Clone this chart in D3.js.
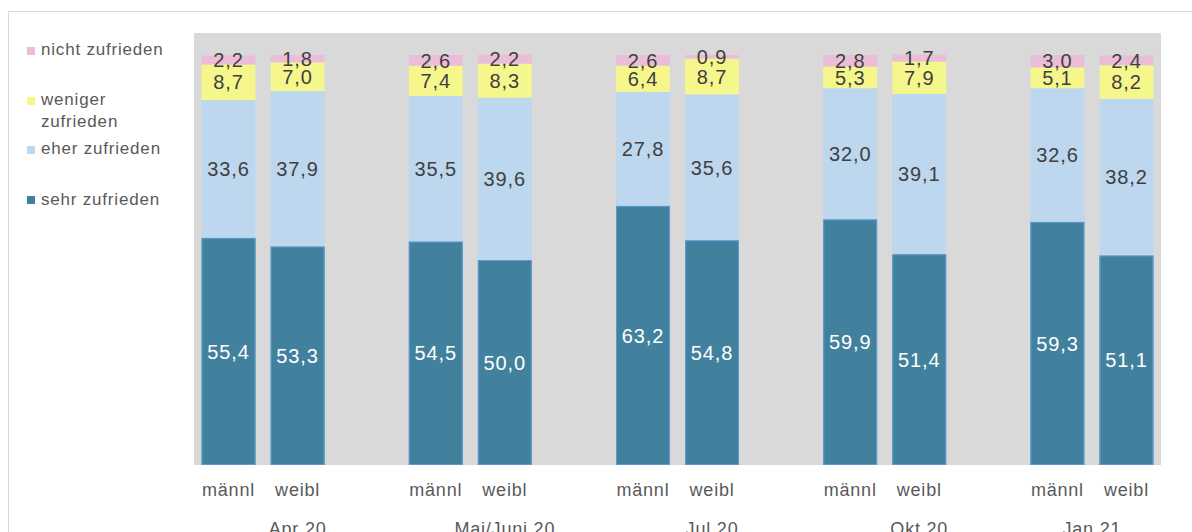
<!DOCTYPE html>
<html>
<head>
<meta charset="utf-8">
<script src="https://cdn.jsdelivr.net/npm/d3@7"></script>
<style>
  html, body { margin: 0; padding: 0; background: #ffffff; }
  svg { display: block; font-family: "Liberation Sans", Arial, sans-serif; }
</style>
</head>
<body>
<svg id="chart" width="1192" height="532"></svg>
<script>
const groups = ["Apr 20", "Mai/Juni 20", "Jul 20", "Okt 20", "Jan 21"];
const sexes = ["männl", "weibl"];
const seriesNames = ["sehr zufrieden", "eher zufrieden", "weniger zufrieden", "nicht zufrieden"];
const sehrZufrieden    = [55.4, 53.3, 54.5, 50.0, 63.2, 54.8, 59.9, 51.4, 59.3, 51.1];
const eherZufrieden    = [33.6, 37.9, 35.5, 39.6, 27.8, 35.6, 32.0, 39.1, 32.6, 38.2];
const wenigerZufrieden = [8.7, 7.0, 7.4, 8.3, 6.4, 8.7, 5.3, 7.9, 5.1, 8.2];
const nichtZufrieden   = [2.2, 1.8, 2.6, 2.2, 2.6, 0.9, 2.8, 1.7, 3.0, 2.4];

const colors = ["#42819e", "#bdd7ee", "#f5f78c", "#ebbdd9"];
const labelColors = ["#ffffff", "#404040", "#404040", "#404040"];
const seriesValues = [sehrZufrieden, eherZufrieden, wenigerZufrieden, nichtZufrieden];

// build category slots (with blank slot between groups)
const slots = [];
const rows = [];
groups.forEach((g, gi) => {
  sexes.forEach((s, si) => {
    const key = g + "|" + s;
    slots.push(key);
    const idx = gi * 2 + si;
    const row = { key, group: g, sex: s };
    seriesNames.forEach((n, k) => row[n] = seriesValues[k][idx]);
    rows.push(row);
  });
  if (gi < groups.length - 1) slots.push(g + "|gap");
});

const svg = d3.select("#chart");
const plotLeft = 194, plotRight = 1161, plotTop = 33, plotBottom = 465;

// outer chart border
svg.append("rect").attr("x", 8.5).attr("y", 11.5).attr("width", 1200).attr("height", 540)
  .attr("fill", "none").attr("stroke", "#d9d9d9").attr("stroke-width", 1);

// plot area
svg.append("rect").attr("x", plotLeft).attr("y", plotTop)
  .attr("width", plotRight - plotLeft).attr("height", plotBottom - plotTop)
  .attr("fill", "#d9d9d9");

const x = d3.scaleBand().domain(slots).range([plotLeft, plotRight]).paddingInner(0.22).paddingOuter(0.11);
const y = d3.scaleLinear().domain([0, 100]).range([plotBottom, 55]);

const stack = d3.stack().keys(seriesNames)(rows);

const layer = svg.append("g").selectAll("g").data(stack).join("g")
  .attr("fill", (d, i) => colors[i]);

layer.selectAll("rect").data(d => d).join("rect")
  .attr("x", d => x(d.data.key))
  .attr("width", x.bandwidth())
  .attr("y", d => y(d[1]))
  .attr("height", d => y(d[0]) - y(d[1]));

// outline on dark segments
svg.append("g").selectAll("rect").data(stack[0]).join("rect")
  .attr("x", d => x(d.data.key) + 0.5)
  .attr("width", x.bandwidth() - 1)
  .attr("y", d => y(d[1]) + 0.5)
  .attr("height", d => y(d[0]) - y(d[1]) - 1)
  .attr("fill", "none").attr("stroke", "#5b9bd5").attr("stroke-width", 1);

// value labels
stack.forEach((s, i) => {
  svg.append("g").selectAll("text").data(s).join("text")
    .attr("x", d => x(d.data.key) + x.bandwidth() / 2)
    .attr("y", d => (y(d[0]) + y(d[1])) / 2)
    .attr("dy", "0.36em")
    .attr("text-anchor", "middle")
    .attr("font-size", 20)
    .attr("letter-spacing", 0.9)
    .attr("fill", labelColors[i])
    .text(d => d3.format(".1f")(d.data[s.key]).replace(".", ","));
});

// category labels
svg.append("g").selectAll("text").data(rows).join("text")
  .attr("x", d => x(d.key) + x.bandwidth() / 2)
  .attr("y", 496)
  .attr("text-anchor", "middle")
  .attr("font-size", 18)
  .attr("letter-spacing", 0.8)
  .attr("fill", "#595959")
  .text(d => d.sex);

// group labels
svg.append("g").selectAll("text").data(groups).join("text")
  .attr("x", g => {
    const ks = slots.filter(k => k.startsWith(g + "|"));
    const a = x(ks[0]) - x.step() * x.paddingInner() / 2;
    const b = x(ks[ks.length - 1]) + x.bandwidth() + x.step() * x.paddingInner() / 2;
    return (a + b) / 2;
  })
  .attr("y", 535)
  .attr("text-anchor", "middle")
  .attr("font-size", 18)
  .attr("letter-spacing", 0.8)
  .attr("fill", "#595959")
  .text(g => g);

// legend
const legend = [
  { name: "nicht zufrieden", lines: ["nicht zufrieden"], c: colors[3], sy: 47, ty: 55 },
  { name: "weniger zufrieden", lines: ["weniger", "zufrieden"], c: colors[2], sy: 97, ty: 105 },
  { name: "eher zufrieden", lines: ["eher zufrieden"], c: colors[1], sy: 146, ty: 154 },
  { name: "sehr zufrieden", lines: ["sehr zufrieden"], c: colors[0], sy: 196, ty: 205 }
];
const lg = svg.append("g").selectAll("g").data(legend).join("g");
lg.append("rect").attr("x", 27).attr("y", d => d.sy).attr("width", 8).attr("height", 8)
  .attr("fill", d => d.c);
lg.append("text").attr("x", 41).attr("y", d => d.ty)
  .attr("font-size", 17).attr("letter-spacing", 0.8).attr("fill", "#595959")
  .selectAll("tspan").data(d => d.lines).join("tspan")
  .attr("x", 41).attr("dy", (d, i) => i === 0 ? 0 : 22)
  .text(d => d);
</script>
</body>
</html>
